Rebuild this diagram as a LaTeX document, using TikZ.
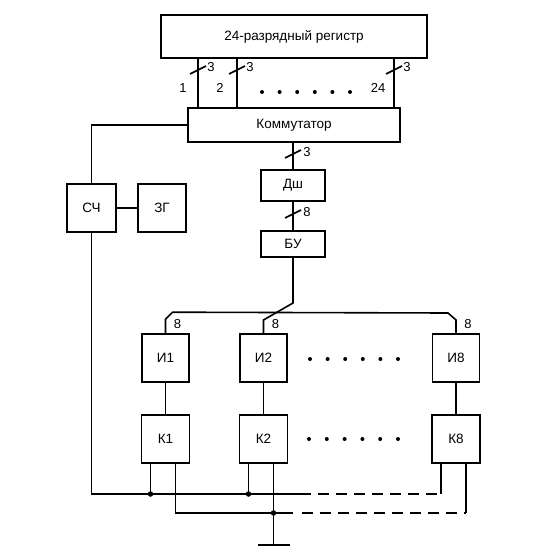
\documentclass[tikz,border=0pt]{standalone}
\usepackage{fontspec}
\setmainfont{Liberation Sans}
\usepackage{tikz}
\usetikzlibrary{calc,positioning}
\newcommand{\Lab}{\fontsize{13.5}{15}\selectfont}
\newcommand{\Tiny}{\fontsize{13}{14}\selectfont}
% short bus tick across a vertical wire
\newcommand{\BusTick}[1]{\draw ($(#1)+(-8,4)$) -- ++(16,-8);}

\begin{document}
\begin{tikzpicture}[x=1pt,y=-1pt,line width=1.6pt,
    blk/.style={draw, rectangle, inner sep=0pt, font=\Lab},
    num/.style={font=\Tiny, inner sep=0pt},
    jdot/.style={circle, fill, inner sep=0pt, minimum size=5.5pt}]
  \useasboundingbox (0,0) rectangle (559,556);
  % top part
  \node[blk, minimum width=266, minimum height=43] (reg) at (294,36.5) {24-разрядный регистр};
  \node[blk, minimum width=212, minimum height=34] (kom) at (294,125) {Коммутатор};
  \coordinate (b1) at (198,0);
  \coordinate (b2) at (237,0);
  \coordinate (b24) at (394,0);
  \foreach \b/\n/\lx in {b1/1/183, b2/2/220, b24/24/378}{
    \draw (reg.south -| \b) -- (kom.north -| \b);
    \coordinate (t\b) at ($(\b)+(0,70)$);
    \BusTick{t\b}
    \node[num] (n\b) at ($(\b)+(13,67)$) {3};
    \node[num] (l\b) at (\lx,88) {\n};
  }
  \foreach \i in {0,...,5}
    \fill (262+\i*17.6,92) circle (2);
  % decoder chain
  \node[blk, minimum width=64, minimum height=31] (dsh) at (293,185.5) {Дш};
  \node[blk, minimum width=64, minimum height=26] (bu) at (293,244) {БУ};
  \draw (dsh.north |- kom.south) -- (dsh.north);
  \draw (dsh.south) -- (bu.north);
  \coordinate (tk) at (293,154);
  \coordinate (td) at (293,214);
  \BusTick{tk}
  \BusTick{td}
  \node[num] (nk) at (307,152) {3};
  \node[num] (nd) at (307,212) {8};
  % counter and generator
  \node[blk, minimum width=49, minimum height=48] (sch) at (91.5,208) {СЧ};
  \node[blk, minimum width=48, minimum height=48] (zg) at (162,208) {ЗГ};
  \draw (kom.west) -| (sch.north);
  \draw (sch.east) -- (zg.west);
  % indicators and keys
  \foreach \k/\x in {1/165.5, 2/263.5, 8/456}{
    \node[blk, minimum width=47, minimum height=48] (i\k) at (\x,358) {И\k};
    \node[blk, minimum width=48, minimum height=48] (k\k) at (\x,439) {К\k};
    \draw (i\k.south) -- (k\k.north);
    \node[num] (e\k) at ($(i\k.north)+(12,-9)$) {8};
    \coordinate (pl\k) at ($(k\k.south)+(-15,0)$);
    \coordinate (pr\k) at ($(k\k.south)+(10,0)$);
  }
  \foreach \i in {0,...,5}{
    \fill (310+\i*17.6,359) circle (2);
    \fill (309+\i*17.8,439) circle (2);
  }
  % bus to indicators
  \draw (i1.north) -- ++(0,-14) -- ++(7,-7) -- (448,313) -- (456,320) -- (i8.north);
  \draw (bu.south) -- (293,303) -- (263.5,320) -- (i2.north);
  % bottom wiring
  \coordinate (s1) at (300,494);
  \coordinate (s2) at (293,513);
  \coordinate (gnd) at (pr2 |- 0,545);
  \draw (sch.south) |- (s1);
  \draw[dashed, dash pattern=on 11pt off 7pt] (s1) -- (pl8 |- s1);
  \draw (pl8 |- s1) -- (pl8);
  \draw (pl1) -- (pl1 |- s1);
  \draw (pl2) -- (pl2 |- s1);
  \draw (pr1) |- (s2);
  \draw[dashed, dash pattern=on 11pt off 7pt] ($(s2)+(9,0)$) -- (pr8 |- s2);
  \draw (pr8 |- s2) -- (pr8);
  \draw (pr2) -- (gnd);
  \draw[line width=2pt] ($(gnd)+(-16,0)$) -- ($(gnd)+(16,0)$);
  \node[jdot] (j1) at (pl1 |- s1) {};
  \node[jdot] (j2) at (pl2 |- s1) {};
  \node[jdot] (j3) at (pr2 |- s2) {};
\end{tikzpicture}
\end{document}
